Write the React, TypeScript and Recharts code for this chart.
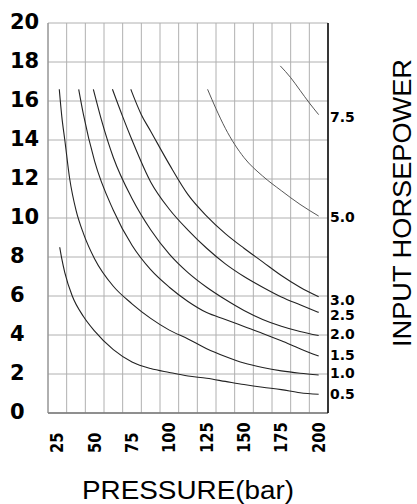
import React from "react";
import { LineChart, Line, XAxis, YAxis, CartesianGrid, Label } from "recharts";

// ─── Pump curves: flow vs pressure for each input horsepower ───────
const hp05Pressure = [26.6, 28, 30, 35, 42.5, 50, 62.5, 75, 87.5, 100, 112.5, 125, 137.5, 150, 162.5, 175, 187.5, 200];
const hp05Flow = [8.5, 7.9, 7.2, 6.0, 4.95, 4.2, 3.25, 2.62, 2.28, 2.08, 1.9, 1.78, 1.62, 1.46, 1.32, 1.2, 1.04, 0.96];

const hp10Pressure = [26.3, 28, 30, 33.3, 37.5, 42.5, 50, 62.5, 75, 87.5, 100, 112.5, 125, 137.5, 150, 162.5, 175, 187.5, 200];
const hp10Flow = [16.6, 15.2, 14.0, 12.0, 10.4, 9.2, 7.9, 6.5, 5.6, 4.85, 4.25, 3.8, 3.3, 2.9, 2.56, 2.33, 2.16, 2.04, 1.95];

const hp15Pressure = [39.3, 42.5, 50, 62.5, 75, 87.5, 100, 112.5, 125, 137.5, 150, 162.5, 175, 187.5, 200];
const hp15Flow = [16.6, 15.3, 12.9, 10.4, 8.6, 7.35, 6.45, 5.72, 5.15, 4.8, 4.44, 4.08, 3.7, 3.3, 2.92];

const hp20Pressure = [49.1, 55, 62.5, 75, 87.5, 100, 112.5, 125, 137.5, 150, 162.5, 175, 187.5, 200];
const hp20Flow = [16.6, 14.9, 13.1, 11.0, 9.4, 8.15, 7.2, 6.45, 5.82, 5.26, 4.8, 4.45, 4.18, 3.97];

const hp25Pressure = [61.9, 68.75, 75, 87.5, 100, 112.5, 125, 137.5, 150, 162.5, 175, 187.5, 200];
const hp25Flow = [16.6, 15.2, 14.0, 11.85, 10.45, 9.38, 8.45, 7.65, 7.0, 6.45, 5.95, 5.55, 5.16];

const hp30Pressure = [74.2, 81.25, 87.5, 100, 112.5, 125, 137.5, 150, 162.5, 175, 187.5, 200];
const hp30Flow = [16.6, 15.3, 14.45, 12.75, 11.2, 10.1, 9.2, 8.45, 7.75, 7.05, 6.45, 5.96];

const hp50Pressure = [125.6, 131.25, 137.5, 150, 162.5, 175, 187.5, 200];
const hp50Flow = [16.6, 15.6, 14.6, 13.1, 12.15, 11.4, 10.7, 10.1];

const hp75Pressure = [174.3, 181.25, 187.5, 193.75, 200];
const hp75Flow = [17.8, 17.2, 16.55, 15.9, 15.3];

// ─── Axes ──────────────────────────────────────────────────────────
const pressureTicks = [25, 50, 75, 100, 125, 150, 175, 200];
const pressureGrid = [18.75, 31.25, 43.75, 56.25, 68.75, 81.25, 93.75, 106.25, 118.75, 131.25, 143.75, 156.25, 168.75, 181.25, 193.75, 206.25];
const flowTicks = [0, 2, 4, 6, 8, 10, 12, 14, 16, 18, 20];

// horsepower labels on the right, placed at the flow level of each curve end
const hpLabels = ["7.5", "5.0", "3.0", "2.5", "2.0", "1.5", "1.0", "0.5"];
const hpLabelFlow = [15.17, 10.07, 5.79, 5.03, 4.03, 2.97, 2.03, 0.97];

const zip = (p: number[], q: number[]) => p.map((x, i) => ({ pressure: x, flow: q[i] }));

// both y axes span 0–20 on the same plot height, so either gives the same scale
const curves = [
  { key: "0.5", axis: "flow", data: zip(hp05Pressure, hp05Flow) },
  { key: "1.0", axis: "flow", data: zip(hp10Pressure, hp10Flow) },
  { key: "1.5", axis: "flow", data: zip(hp15Pressure, hp15Flow) },
  { key: "2.0", axis: "flow", data: zip(hp20Pressure, hp20Flow) },
  { key: "2.5", axis: "hp", data: zip(hp25Pressure, hp25Flow) },
  { key: "3.0", axis: "hp", data: zip(hp30Pressure, hp30Flow) },
  { key: "5.0", axis: "hp", data: zip(hp50Pressure, hp50Flow), light: true },
  { key: "7.5", axis: "hp", data: zip(hp75Pressure, hp75Flow), light: true },
];

const TICK_FONT = "'DejaVu Sans', Verdana, sans-serif";
const TITLE_FONT = "'Liberation Sans', Arial, sans-serif";

const FlowTick = ({ y, payload }: any) => (
  <text x={10} y={y + 6} fontFamily={TICK_FONT} fontWeight="bold" fontSize={21} fill="#000" textAnchor="start">
    {payload.value}
  </text>
);

const PressureTick = ({ x, payload }: any) => {
  const s = String(payload.value);
  return (
    <text
      x={x}
      y={453}
      transform={`rotate(-90 ${x} 453)`}
      dy="0.36em"
      fontFamily={TICK_FONT}
      fontWeight="bold"
      fontSize={17}
      fill="#000"
      textAnchor="start"
      textLength={s.length * 10.2}
      lengthAdjust="spacingAndGlyphs"
    >
      {s}
    </text>
  );
};

const HpTick = ({ x, y, payload }: any) => {
  const i = hpLabelFlow.indexOf(payload.value);
  return (
    <text x={x - 6} y={y + 5} fontFamily={TICK_FONT} fontWeight="bold" fontSize={14} fill="#000" textAnchor="start">
      {hpLabels[i]}
    </text>
  );
};

export default function App() {
  return (
    <div style={{ position: "absolute", left: 0, top: 0, width: 417, height: 504, background: "#fff" }}>
      <LineChart width={417} height={504} margin={{ top: 23, right: 0, bottom: 0, left: 0 }}>
        <CartesianGrid
          yAxisId="flow"
          stroke="#b0b0b0"
          strokeWidth={1}
          horizontalValues={flowTicks}
          verticalValues={pressureGrid}
        />
        <XAxis
          type="number"
          dataKey="pressure"
          domain={[18.75, 206.25]}
          ticks={pressureTicks}
          allowDataOverflow
          height={91}
          tickLine={false}
          axisLine={{ stroke: "#777", strokeWidth: 1.5 }}
          tick={<PressureTick />}
          interval={0}
        >
          <Label
            content={({ viewBox }: any) => (
              <text
                x={viewBox.x + viewBox.width / 2}
                y={viewBox.y + 86}
                textAnchor="middle"
                fontFamily={TITLE_FONT}
                fontSize={26}
                fill="#000"
                textLength={212}
                lengthAdjust="spacingAndGlyphs"
              >
                PRESSURE(bar)
              </text>
            )}
          />
        </XAxis>
        <YAxis
          yAxisId="flow"
          type="number"
          domain={[0, 20]}
          allowDataOverflow
          ticks={flowTicks}
          width={48}
          tickLine={false}
          axisLine={{ stroke: "#888" }}
          tick={<FlowTick />}
          interval={0}
        />
        <YAxis
          yAxisId="hp"
          orientation="right"
          type="number"
          domain={[0, 20]}
          allowDataOverflow
          ticks={hpLabelFlow}
          width={89}
          tickLine={false}
          axisLine={{ stroke: "#000", strokeWidth: 1.5 }}
          tick={<HpTick />}
          interval={0}
        >
          <Label
            content={() => (
              <text
                x={402}
                y={203}
                transform="rotate(-90 402 203)"
                dy="0.36em"
                textAnchor="middle"
                fontFamily={TITLE_FONT}
                fontSize={26}
                fill="#000"
                textLength={288}
                lengthAdjust="spacingAndGlyphs"
              >
                INPUT HORSEPOWER
              </text>
            )}
          />
        </YAxis>
        {curves.map((c) => (
          <Line
            key={c.key}
            yAxisId={c.axis}
            data={c.data}
            dataKey="flow"
            type="monotone"
            stroke={c.light ? "#444" : "#222"}
            strokeWidth={c.light ? 0.9 : 1.1}
            dot={false}
            activeDot={false}
            isAnimationActive={false}
          />
        ))}
      </LineChart>
    </div>
  );
}
